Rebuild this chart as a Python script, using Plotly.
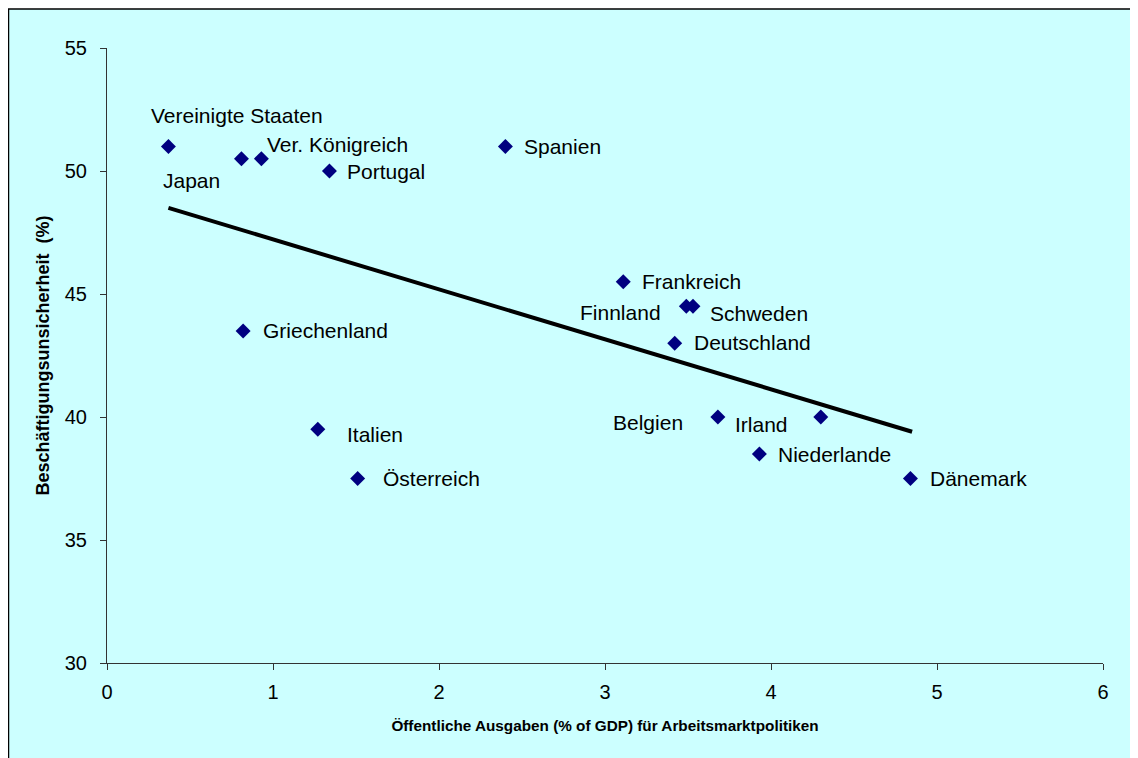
import plotly.graph_objects as go

# ---- data ----
countries = ["Vereinigte Staaten", "Japan", "Ver. Königreich", "Portugal", "Spanien",
             "Frankreich", "Finnland", "Schweden", "Deutschland", "Griechenland",
             "Italien", "Österreich", "Irland", "Belgien", "Niederlande", "Dänemark"]
spending = [0.37, 0.81, 0.93, 1.34, 2.40, 3.11, 3.49, 3.53, 3.42, 0.82,
            1.27, 1.51, 3.68, 4.30, 3.93, 4.84]
insecurity = [51.0, 50.5, 50.5, 50.0, 51.0, 45.5, 44.5, 44.5, 43.0, 43.5,
              39.5, 37.5, 40.0, 40.0, 38.5, 37.5]
trend_x = [0.37, 4.85]
trend_y = [48.5, 39.4]
x_ticks = [0, 1, 2, 3, 4, 5, 6]
y_ticks = [30, 35, 40, 45, 50, 55]

# label offsets in pixels (left edge dx, centre dy downward)
label_offsets = {
    "Vereinigte Staaten": (-19, -31), "Japan": (-80, 22), "Ver. Königreich": (4, -14),
    "Portugal": (16, 0), "Spanien": (17, 0), "Frankreich": (17, 0),
    "Finnland": (-108, 6), "Schweden": (15, 7), "Deutschland": (17, -1),
    "Griechenland": (18, 0), "Italien": (27, 5), "Österreich": (23, 0),
    "Irland": (15, 7), "Belgien": (-210, 5), "Niederlande": (17, 1), "Dänemark": (18, 0),
}

FONT = "Liberation Sans, Arial, sans-serif"

fig = go.Figure()
fig.add_trace(go.Scatter(x=trend_x, y=trend_y, mode="lines",
                         line=dict(color="black", width=4), hoverinfo="skip"))
fig.add_trace(go.Scatter(x=spending, y=insecurity, mode="markers",
                         marker=dict(symbol="diamond", color="#000080", size=11.5,
                                     line=dict(width=0)),
                         text=countries))

for c, xv, yv in zip(countries, spending, insecurity):
    dx, dy = label_offsets[c]
    fig.add_annotation(x=xv, y=yv, xref="x", yref="y", text=c, showarrow=False,
                       xanchor="left", yanchor="middle", xshift=dx, yshift=-dy,
                       font=dict(family=FONT, size=21, color="black"))

# figure sits at (8, 8) in the page because of the default body margin
W, H = 1130, 750
L, T = 99, 40
R = W - 1095
B = H - 655
pw, ph = W - L - R, H - T - B
fig.add_shape(type="rect", xref="paper", yref="paper",
              x0=(0.5 - L) / pw, x1=(1125 - L) / pw,
              y0=(H - B - 770) / ph, y1=(H - B - 1) / ph,
              fillcolor="#CCFFFF", line=dict(color="black", width=1.5), layer="below")

axis_common = dict(showgrid=False, zeroline=False, showline=True, linecolor="#333333",
                   linewidth=1, ticks="outside", ticklen=6, tickcolor="#333333",
                   tickfont=dict(family=FONT, size=20, color="black"))
fig.update_layout(
    width=W, height=H, margin=dict(l=L, r=R, t=T, b=B),
    paper_bgcolor="white", plot_bgcolor="rgba(0,0,0,0)", showlegend=False,
    xaxis=dict(range=[0, 6], tickvals=x_ticks, ticklabelstandoff=5, **axis_common,
               title=dict(text="<b>Öffentliche Ausgaben (% of GDP) für Arbeitsmarktpolitiken</b>",
                          font=dict(family=FONT, size=15.3, color="black"), standoff=18)),
    yaxis=dict(range=[30, 55], tickvals=y_ticks, ticklabelstandoff=9, **axis_common,
               title=dict(text="<b>Beschäftigungsunsicherheit  (%)</b>",
                          font=dict(family=FONT, size=18, color="black"), standoff=10)),
)

fig.write_html("out.html")
